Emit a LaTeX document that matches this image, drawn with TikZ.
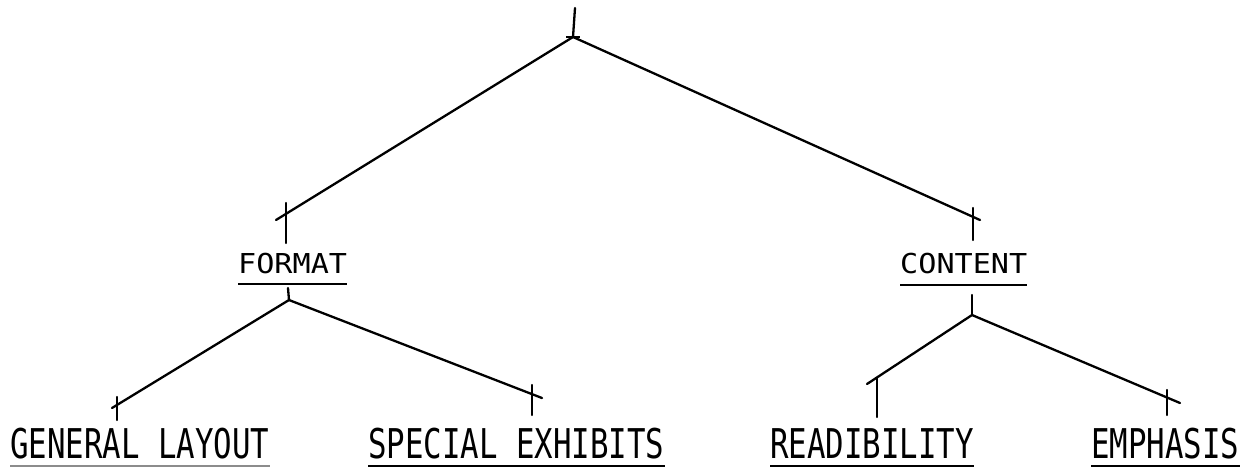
\documentclass[tikz,border=0pt]{standalone}
\usepackage{fontspec}
\usepackage{graphicx}
\newfontfamily\tw{DejaVu Sans Mono}
\begin{document}
\begin{tikzpicture}[x=1pt,y=-1pt,
  branch/.style={line width=2.3pt, line cap=round},
  tickline/.style={line width=2.3pt, line cap=round},
  ul/.style={line width=1.8pt},
  biglbl/.style={inner sep=0pt, anchor=base west, font=\tw\fontsize{41}{41}\selectfont},
  midlbl/.style={inner sep=0pt, anchor=base west, font=\tw\fontsize{27.4}{27.4}\selectfont}]
\useasboundingbox (0,0) rectangle (1249,467);

% labels
\node[midlbl] (format) at (238,273) {\scalebox{1.1}[1]{FORMAT}};
\node[midlbl] (content) at (900,273) {\scalebox{1.1}[1]{CONTENT}};
\node[biglbl] (gl) at (10,458) {\scalebox{0.75}[1]{GENERAL LAYOUT}};
\node[biglbl] (se) at (368,458) {\scalebox{0.75}[1]{SPECIAL EXHIBITS}};
\node[biglbl] (rd) at (770,458) {\scalebox{0.75}[1]{READIBILITY}};
\node[biglbl] (em) at (1091,458) {\scalebox{0.75}[1]{EMPHASIS}};

% underlines
\draw[ul] ([yshift=-11pt]format.base west) -- ([yshift=-11pt]format.base east);
\draw[ul] ([yshift=-12pt]content.base west) -- ([yshift=-12pt]content.base east);
\draw[ul, black!45] ([yshift=-8pt]gl.base west) -- ([yshift=-8pt]gl.base east);
\draw[ul] ([yshift=-8pt]se.base west) -- ([yshift=-8pt]se.base east);
\draw[ul] ([yshift=-8pt]rd.base west) -- ([yshift=-8pt]rd.base east);
\draw[ul] ([yshift=-8pt]em.base west) -- ([yshift=-8pt]em.base east);

% junction and tick coordinates
\coordinate (rtop) at (575,8);
\coordinate (r) at (573,37);
\coordinate (fEnd) at (276,220);
\coordinate (fTickT) at (286,203);
\coordinate (fTickB) at (286,243);
\coordinate (cEnd) at (980,220);
\coordinate (cTickT) at (973,208);
\coordinate (cTickB) at (973,240);
\coordinate (fj) at (289,300);
\coordinate (fjTop) at (288,288);
\coordinate (cj) at (972,315);
\coordinate (cjTop) at (972,295);
\coordinate (glEnd) at (112,408);
\coordinate (glTickT) at (117,397);
\coordinate (glTickB) at (117,420);
\coordinate (seEnd) at (542,398);
\coordinate (seTickT) at (532,385);
\coordinate (seTickB) at (532,415);
\coordinate (rdEnd) at (867,384);
\coordinate (rdTickT) at (877,378);
\coordinate (rdTickB) at (877,417);
\coordinate (emEnd) at (1180,403);
\coordinate (emTickT) at (1167,390);
\coordinate (emTickB) at (1167,415);

% root
\draw[tickline] (rtop) -- (r);
\draw[line width=1.6pt] ([xshift=-7pt]r) -- ([xshift=7pt]r);
\draw[branch] (r) -- (fEnd);
\draw[branch] (r) -- (cEnd);
\draw[tickline] (fTickT) -- (fTickB);
\draw[tickline] (cTickT) -- (cTickB);

% FORMAT subtree
\draw[tickline] (fjTop) -- (fj);
\draw[branch] (fj) -- (glEnd);
\draw[branch] (fj) -- (seEnd);
\draw[tickline] (glTickT) -- (glTickB);
\draw[tickline] (seTickT) -- (seTickB);

% CONTENT subtree
\draw[tickline] (cjTop) -- (cj);
\draw[branch] (cj) -- (rdEnd);
\draw[branch] (cj) -- (emEnd);
\draw[tickline] (rdTickT) -- (rdTickB);
\draw[tickline] (emTickT) -- (emTickB);
\end{tikzpicture}
\end{document}
